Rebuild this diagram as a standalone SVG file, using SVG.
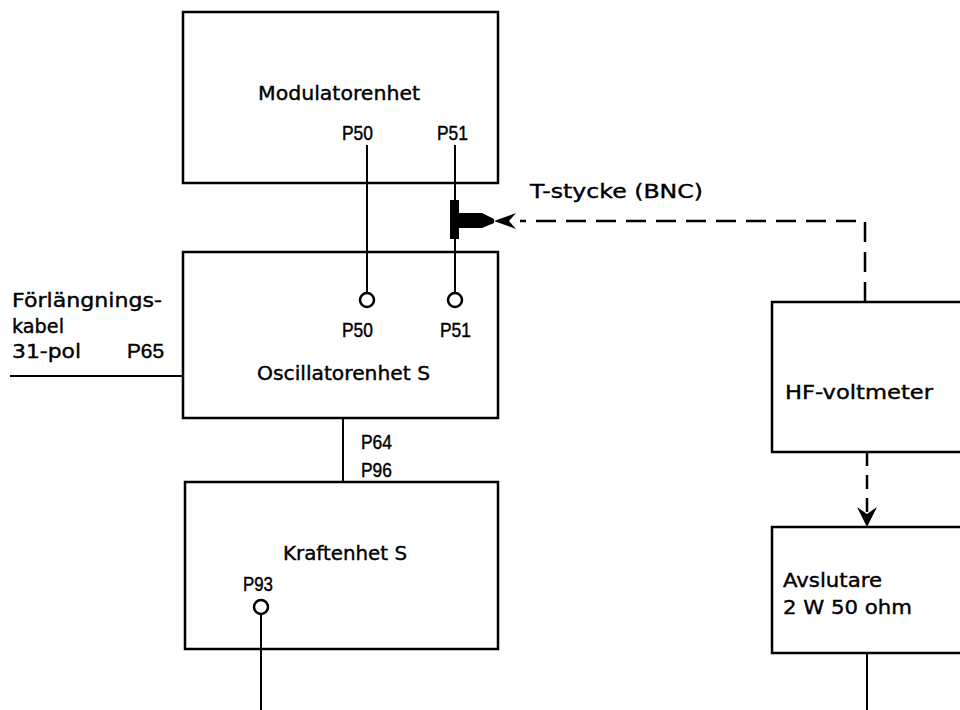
<svg xmlns="http://www.w3.org/2000/svg" width="960" height="710" viewBox="0 0 960 710">
<style>
.box{fill:none;stroke:#000;stroke-width:2.5}
.ln{fill:none;stroke:#000;stroke-width:2}
.dash{fill:none;stroke:#000;stroke-width:2.5;stroke-dasharray:20 10}
.pin{fill:#fff;stroke:#000;stroke-width:2.5}
text{font-family:"DejaVu Sans","Liberation Sans",Arial,sans-serif;font-size:20px;fill:#000;stroke:#000;stroke-width:0.4}
text.p{font-family:"Liberation Sans",Arial,sans-serif;font-size:21px;stroke-width:0.45}
</style>
<rect width="960" height="710" fill="#fff"/>
<g id="connectors">
<line class="ln" x1="367" y1="145" x2="367" y2="293"/>
<line class="ln" x1="455" y1="145" x2="455" y2="293"/>
<line class="ln" x1="10" y1="376" x2="183" y2="376"/>
<line class="ln" x1="343" y1="418" x2="343" y2="482"/>
<line class="ln" x1="261" y1="614" x2="261" y2="710"/>
<line class="ln" x1="867" y1="653" x2="867" y2="710"/>
<polyline class="dash" points="865,302 865,221 520,221"/>
<path d="M516,213 L494,221 L516,229 L509,221 Z" fill="#000"/>
<line class="dash" x1="867" y1="452" x2="867" y2="512" style="stroke-dasharray:14 9"/>
<path d="M857,507 L867,527 L877,507 L867,514 Z" fill="#000"/>
</g>
<g id="t-stycke">
<rect x="450" y="200" width="9" height="39" fill="#000"/>
<path d="M459,213 L482,213 L494,219 L494,223 L482,228 L459,228 Z" fill="#000"/>
<text x="530" y="198" textLength="173" lengthAdjust="spacingAndGlyphs">T-stycke (BNC)</text>
</g>
<g id="modulatorenhet">
<rect class="box" x="183" y="12" width="315" height="171"/>
<text x="258" y="100" textLength="162" lengthAdjust="spacingAndGlyphs">Modulatorenhet</text>
<text class="p" x="342" y="140" textLength="31" lengthAdjust="spacingAndGlyphs">P50</text>
<text class="p" x="437" y="140" textLength="31" lengthAdjust="spacingAndGlyphs">P51</text>
</g>
<g id="oscillatorenhet">
<rect class="box" x="183" y="252" width="315" height="166"/>
<circle class="pin" cx="367" cy="300" r="7"/>
<circle class="pin" cx="455" cy="300" r="7"/>
<text class="p" x="342" y="337" textLength="31" lengthAdjust="spacingAndGlyphs">P50</text>
<text class="p" x="440" y="337" textLength="31" lengthAdjust="spacingAndGlyphs">P51</text>
<text x="257" y="380" textLength="173" lengthAdjust="spacingAndGlyphs">Oscillatorenhet S</text>
</g>
<g id="kabel">
<text x="12" y="307" textLength="150" lengthAdjust="spacingAndGlyphs">Förlängnings-</text>
<text x="12" y="333" textLength="52" lengthAdjust="spacingAndGlyphs">kabel</text>
<text x="12" y="358" textLength="69" lengthAdjust="spacingAndGlyphs">31-pol</text>
<text class="p" x="127" y="358" textLength="37" lengthAdjust="spacingAndGlyphs">P65</text>
</g>
<g id="p64p96">
<text class="p" x="361" y="449" textLength="31" lengthAdjust="spacingAndGlyphs">P64</text>
<text class="p" x="361" y="477" textLength="31" lengthAdjust="spacingAndGlyphs">P96</text>
</g>
<g id="kraftenhet">
<rect class="box" x="185" y="482" width="313" height="167"/>
<text x="283" y="560" textLength="124" lengthAdjust="spacingAndGlyphs">Kraftenhet S</text>
<text class="p" x="243" y="591" textLength="30" lengthAdjust="spacingAndGlyphs">P93</text>
<circle class="pin" cx="261" cy="607" r="7"/>
</g>
<g id="hf-voltmeter">
<rect class="box" x="772" y="302" width="200" height="150"/>
<text x="785" y="399" textLength="148" lengthAdjust="spacingAndGlyphs">HF-voltmeter</text>
</g>
<g id="avslutare">
<rect class="box" x="772" y="527" width="200" height="126"/>
<text x="783" y="587" textLength="99" lengthAdjust="spacingAndGlyphs">Avslutare</text>
<text x="783" y="614" textLength="129" lengthAdjust="spacingAndGlyphs">2 W 50 ohm</text>
</g>
</svg>
